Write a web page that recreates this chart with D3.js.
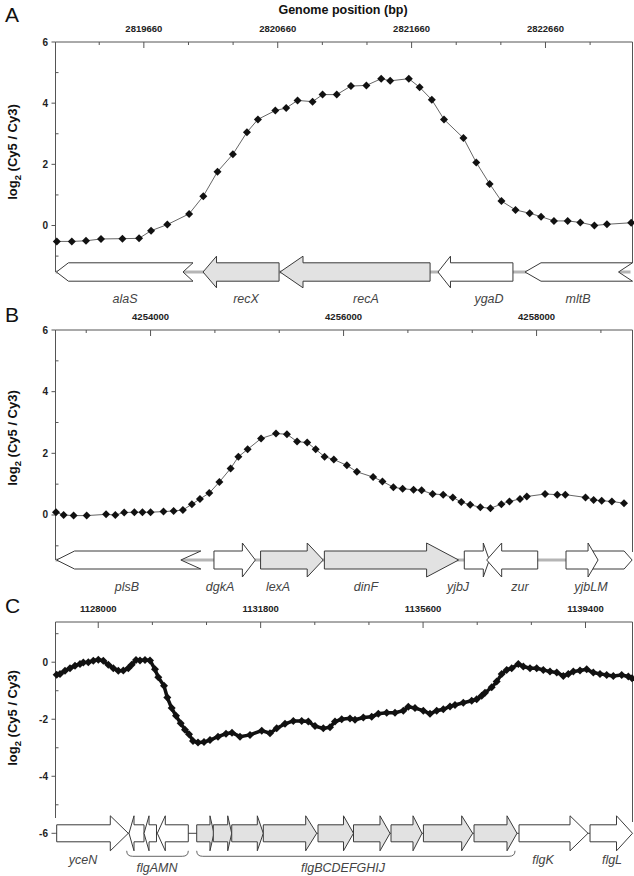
<!DOCTYPE html>
<html><head><meta charset="utf-8">
<script src="https://cdn.jsdelivr.net/npm/d3@7/dist/d3.min.js"></script>
<style>
body{margin:0;background:#fff}
svg{display:block}
text{font-family:"Liberation Sans",Arial,Helvetica,sans-serif}
</style>
</head><body>
<svg id="chart" width="634" height="876"></svg>
<script>
// ---------- DATA ----------
// Panel A (recA region)
const posA = [2819010,2819122,2819228,2819340,2819500,2819624,2819714,2819835,2819998,2820104,2820210,2820325,2820430,2820512,2820642,2820723,2820808,2820920,2820995,2821101,2821207,2821322,2821433,2821500,2821639,2821720,2821811,2821902,2822047,2822143,2822243,2822331,2822436,2822542,2822627,2822723,2822826,2822920,2823025,2823119,2823300];
const valA = [-0.52,-0.52,-0.50,-0.44,-0.43,-0.42,-0.17,0.03,0.38,0.96,1.76,2.33,3.05,3.47,3.76,3.84,4.09,4.05,4.28,4.28,4.56,4.58,4.80,4.73,4.80,4.52,4.11,3.47,2.86,2.06,1.36,0.80,0.51,0.40,0.29,0.15,0.15,0.10,0.00,0.04,0.09];
const xTicksA = [2819660,2820660,2821660,2822660];
const geneNameA = ['alaS','recX','recA','ygaD','mltB'];
const geneStartA = [2819007,2820102,2820677,2821857,2822507];
const geneEndA = [2820027,2820670,2821798,2822417,2823310];
const geneStrandA = [-1,-1,-1,-1,-1];
const geneShadedA = [false,true,true,false,false];
const labelTextA = ['alaS','recX','recA','ygaD','mltB'];
const labelAtA = [2819519,2820423,2821319,2822238,2822903];

// Panel B (lexA region)
const posB = [4253020,4253099,4253203,4253338,4253539,4253635,4253727,4253832,4253916,4254000,4254134,4254239,4254335,4254428,4254512,4254608,4254713,4254830,4254910,4255006,4255145,4255300,4255413,4255518,4255623,4255711,4255803,4255899,4256034,4256138,4256306,4256403,4256516,4256612,4256725,4256809,4256923,4257032,4257132,4257220,4257312,4257417,4257522,4257635,4257719,4257828,4257899,4258088,4258214,4258298,4258507,4258591,4258675,4258780,4258906];
const valB = [0.09,0.00,-0.02,-0.02,0.02,0.00,0.08,0.09,0.09,0.09,0.11,0.13,0.16,0.35,0.52,0.71,1.07,1.51,1.89,2.13,2.48,2.64,2.62,2.38,2.35,2.13,1.89,1.80,1.61,1.40,1.23,1.09,0.90,0.85,0.82,0.80,0.68,0.66,0.57,0.42,0.33,0.25,0.22,0.35,0.44,0.52,0.60,0.68,0.66,0.66,0.57,0.49,0.46,0.44,0.38];
const xTicksB = [4254000,4256000,4258000];
const geneNameB = ['plsB','dgkA','lexA','dinF','yjbJ','zur','yjbM','yjbL'];
const geneStartB = [4253026,4254657,4255140,4255801,4257251,4257483,4258585,4258305];
const geneEndB = [4254521,4255086,4255789,4257192,4257510,4258012,4258990,4258637];
const geneStrandB = [-1,1,1,1,1,-1,1,1];
const geneShadedB = [false,false,true,true,false,false,false,false];
const labelTextB = ['plsB','dgkA','lexA','dinF','yjbJ','zur','yjbLM'];
const labelAtB = [4253756,4254720,4255321,4256232,4257186,4257828,4258564];

// Panel C (flg region)
const posC = [1127028,1127105,1127222,1127339,1127456,1127573,1127650,1127767,1127884,1128001,1128118,1128235,1128352,1128469,1128586,1128703,1128783,1128883,1128977,1129094,1129211,1129328,1129405,1129539,1129616,1129719,1129819,1129929,1130030,1130124,1130217,1130334,1130474,1130615,1130802,1130989,1131130,1131317,1131551,1131825,1132019,1132175,1132370,1132564,1132760,1132915,1133072,1133266,1133423,1133540,1133696,1133891,1134008,1134202,1134398,1134553,1134749,1134943,1135137,1135254,1135411,1135605,1135762,1135919,1136073,1136230,1136347,1136541,1136738,1136855,1136972,1137049,1137206,1137323,1137440,1137557,1137674,1137829,1137945,1138102,1138259,1138413,1138570,1138727,1138881,1138998,1139115,1139272,1139428,1139583,1139740,1139896,1140051,1140247,1140402,1140489];
const valC = [-0.44,-0.41,-0.30,-0.21,-0.12,-0.06,-0.01,0.00,0.05,0.09,0.05,-0.09,-0.21,-0.30,-0.29,-0.21,-0.09,0.08,0.06,0.08,0.06,-0.25,-0.53,-0.83,-1.24,-1.61,-1.88,-2.14,-2.37,-2.53,-2.76,-2.82,-2.80,-2.73,-2.61,-2.51,-2.47,-2.61,-2.55,-2.40,-2.49,-2.32,-2.16,-2.06,-2.06,-2.08,-2.24,-2.32,-2.28,-2.08,-2.00,-1.97,-2.02,-1.94,-1.91,-1.81,-1.77,-1.77,-1.70,-1.56,-1.61,-1.70,-1.81,-1.70,-1.65,-1.55,-1.50,-1.42,-1.35,-1.30,-1.18,-1.07,-0.88,-0.68,-0.41,-0.27,-0.21,-0.06,-0.15,-0.21,-0.21,-0.27,-0.33,-0.36,-0.48,-0.41,-0.33,-0.29,-0.25,-0.36,-0.41,-0.45,-0.48,-0.45,-0.50,-0.56];
const xTicksC = [1128000,1131800,1135600,1139400];
const geneNameC = ['yceN','flgN','flgM','flgA','flgB','flgC','flgD','flgE','flgF','flgG','flgH','flgI','flgJ','flgK','flgL'];
const geneStartC = [1127028,1128720,1129071,1129382,1130304,1130692,1131123,1131862,1133142,1133972,1134850,1135608,1136792,1137845,1139506];
const geneEndC = [1128703,1129071,1129363,1130107,1130708,1131123,1131862,1133111,1133972,1134826,1135575,1136761,1137798,1139459,1140500];
const geneStrandC = [1,-1,-1,-1,1,1,1,1,1,1,1,1,1,1,1];
const geneShadedC = [false,false,false,false,true,true,true,true,true,true,true,true,true,false,false];
const labelTextC = ['yceN','flgK','flgL'];
const labelAtC = [1127643,1138406,1140020];
const groupTextC = ['flgAMN','flgBCDEFGHIJ'];
const groupStartC = [1128666,1130304];
const groupEndC = [1130107,1137751];
const groupLabelAtC = [1129375,1133727];

const yMajorAB = [6,4,2,0];
const yMinorAB = [5,3,1,-1];
const yMajorC = [0,-2,-4,-6];
const yMinorC = [1,-1,-3,-5];

// ---------- STYLE / LAYOUT ----------
const L = 55.5, R = 632.5;
const geneStyle = {
  alaS:{shape:'notched',head:12,notch:10}, recX:{head:13.5}, recA:{head:23}, ygaD:{head:12.5}, mltB:{shape:'notched',head:16,notch:14},
  plsB:{shape:'notched',head:18,notch:20}, dgkA:{head:13}, lexA:{head:16}, dinF:{head:32}, yjbJ:{head:6}, zur:{head:15}, yjbM:{shape:'pointed',head:8}, yjbL:{head:10},
  yceN:{head:18}, flgN:{head:5}, flgM:{head:5}, flgA:{head:8}, flgB:{head:4}, flgC:{head:4}, flgD:{head:6}, flgE:{head:11}, flgF:{head:10}, flgG:{head:10}, flgH:{head:9}, flgI:{head:11}, flgJ:{head:10}, flgK:{head:18}, flgL:{head:16}
};

const svg = d3.select('#chart');

function drawPanel(cfg) {
  const g = svg.append('g');
  const x = d3.scaleLinear().domain(cfg.xDomain).range([L, R]);
  const y = d3.scaleLinear().domain(cfg.yDomain).range([cfg.geneY, cfg.top]);
  const axisCol = '#555';

  g.append('line').attr('x1', L).attr('x2', R - 2).attr('y1', cfg.geneY).attr('y2', cfg.geneY)
    .attr('stroke', cfg.backboneColor).attr('stroke-width', cfg.backboneWidth);

  g.append('line').attr('x1', L).attr('x2', R).attr('y1', cfg.top).attr('y2', cfg.top).attr('stroke', axisCol);
  g.append('line').attr('x1', L).attr('x2', L).attr('y1', cfg.top).attr('y2', cfg.axisBottom).attr('stroke', axisCol);
  g.append('line').attr('x1', R).attr('x2', R).attr('y1', cfg.top).attr('y2', cfg.rightBottom).attr('stroke', axisCol);

  const majors = cfg.xTicks;
  const step = (majors[1] - majors[0]) / 3;
  const minors = [];
  for (let v = majors[0] - step; v >= cfg.xDomain[0]; v -= step) minors.push(v);
  for (let i = 0; i < majors.length; i++) {
    for (let k = 1; k <= 2; k++) {
      const v = majors[i] + k * step;
      if (v <= cfg.xDomain[1]) minors.push(v);
    }
  }
  g.selectAll(null).data(minors).enter().append('line')
    .attr('x1', d => x(d)).attr('x2', d => x(d)).attr('y1', cfg.top).attr('y2', cfg.top + 3).attr('stroke', axisCol);
  g.selectAll(null).data(majors).enter().append('line')
    .attr('x1', d => x(d)).attr('x2', d => x(d)).attr('y1', cfg.top).attr('y2', cfg.top + 6).attr('stroke', axisCol);
  g.selectAll(null).data(majors).enter().append('text')
    .attr('x', d => x(d)).attr('y', cfg.top - 10.5).attr('text-anchor', 'middle')
    .attr('font-size', 9.5).attr('font-weight', 'bold').attr('fill', '#222').text(d => d);

  g.selectAll(null).data(cfg.yMajor).enter().append('line')
    .attr('x1', L - 4).attr('x2', L).attr('y1', d => y(d)).attr('y2', d => y(d)).attr('stroke', axisCol);
  g.selectAll(null).data(cfg.yMinor).enter().append('line')
    .attr('x1', L).attr('x2', L + 3).attr('y1', d => y(d)).attr('y2', d => y(d)).attr('stroke', axisCol);
  g.selectAll(null).data(cfg.yMajor).enter().append('text')
    .attr('x', 48).attr('y', d => y(d)).attr('dy', '0.35em').attr('text-anchor', 'end')
    .attr('font-size', 10).attr('font-weight', 'bold').attr('fill', '#222').text(d => d);

  const yt = g.append('text').attr('transform', `translate(17,${cfg.yTitleY}) rotate(-90)`)
    .attr('text-anchor', 'middle').attr('font-size', 13).attr('font-weight', 'bold').attr('fill', '#111');
  yt.append('tspan').text('log');
  yt.append('tspan').attr('dy', 3.5).attr('font-size', 9.5).text('2');
  yt.append('tspan').attr('dy', -3.5).text(' (Cy5 / Cy3)');

  g.append('text').attr('x', 5).attr('y', cfg.letterY).attr('font-size', 21).attr('fill', '#111').text(cfg.letter);

  const pts = cfg.pos.map((p, i) => [p, cfg.val[i]]);
  g.append('path').datum(pts)
    .attr('d', d3.line().x(d => x(d[0])).y(d => y(d[1])))
    .attr('fill', 'none').attr('stroke', cfg.lineColor).attr('stroke-width', cfg.lineWidth);
  const r = cfg.r;
  g.selectAll(null).data(pts).enter().append('path')
    .attr('transform', d => `translate(${x(d[0])},${y(d[1])})`)
    .attr('d', `M0,${-r}L${r},0L0,${r}L${-r},0Z`).attr('fill', '#111');

  const c = cfg.geneY, b = cfg.bodyHalf, H = cfg.headHalf;
  cfg.genes.names.forEach((name, i) => {
    const x0 = x(cfg.genes.start[i]), x1 = x(cfg.genes.end[i]);
    const st = geneStyle[name] || {head: 10};
    const h = st.head;
    let p;
    if (st.shape === 'notched') {
      p = [[x0, c], [x0 + h, c - b], [x1, c - b], [x1 - st.notch, c], [x1, c + b], [x0 + h, c + b]];
    } else if (st.shape === 'pointed') {
      p = [[x0, c], [x0 + h, c - b], [x1, c - b], [x1, c + b], [x0 + h, c + b]];
    } else {
      p = [[x0, c], [x0 + h, c - H], [x0 + h, c - b], [x1, c - b], [x1, c + b], [x0 + h, c + b], [x0 + h, c + H]];
    }
    if (cfg.genes.strand[i] > 0) p = p.map(q => [x0 + x1 - q[0], q[1]]);
    g.append('path').attr('d', 'M' + p.map(q => q.join(',')).join('L') + 'Z')
      .attr('fill', cfg.genes.shaded[i] ? '#e2e2e2' : '#fff')
      .attr('stroke', '#3a3a3a').attr('stroke-width', 1).attr('stroke-linejoin', 'miter');
  });

  g.selectAll(null).data(cfg.labels.text).enter().append('text')
    .attr('x', (d, i) => x(cfg.labels.at[i])).attr('y', c + 30.5).attr('text-anchor', 'middle')
    .attr('font-size', 12.5).attr('font-style', 'italic').attr('fill', '#444').text(d => d);

  if (cfg.groups) {
    cfg.groups.text.forEach((t, i) => {
      const a = x(cfg.groups.start[i]), e = x(cfg.groups.end[i]);
      const yt0 = c + 17.5, yb = c + 23;
      g.append('path')
        .attr('d', `M${a},${yt0}Q${a},${yb} ${a + 6},${yb}L${e - 6},${yb}Q${e},${yb} ${e},${yt0}`)
        .attr('fill', 'none').attr('stroke', '#666').attr('stroke-width', 1);
      g.append('text').attr('x', x(cfg.groups.at[i])).attr('y', c + 38.5).attr('text-anchor', 'middle')
        .attr('font-size', 12.5).attr('font-style', 'italic').attr('fill', '#444').text(t);
    });
  }
}

svg.append('text').attr('x', 343).attr('y', 14).attr('text-anchor', 'middle')
  .attr('font-size', 12.5).attr('font-weight', 'bold').attr('fill', '#111').text('Genome position (bp)');

drawPanel({
  letter: 'A', letterY: 22, top: 42, geneY: 272, axisBottom: 272, rightBottom: 263,
  xDomain: [2819000, 2823310], yDomain: [-1.52, 6], xTicks: xTicksA,
  yMajor: yMajorAB, yMinor: yMinorAB, yTitleY: 152,
  pos: posA, val: valA, r: 4, lineColor: '#666', lineWidth: 1,
  bodyHalf: 9.2, headHalf: 15.8, backboneColor: '#b5b5b5', backboneWidth: 3,
  genes: {names: geneNameA, start: geneStartA, end: geneEndA, strand: geneStrandA, shaded: geneShadedA},
  labels: {text: labelTextA, at: labelAtA}
});

drawPanel({
  letter: 'B', letterY: 322, top: 330, geneY: 560, axisBottom: 560, rightBottom: 552,
  xDomain: [4253015, 4258994], yDomain: [-1.46, 6], xTicks: xTicksB,
  yMajor: yMajorAB, yMinor: yMinorAB, yTitleY: 438,
  pos: posB, val: valB, r: 4, lineColor: '#666', lineWidth: 1,
  bodyHalf: 9, headHalf: 17, backboneColor: '#b5b5b5', backboneWidth: 3,
  genes: {names: geneNameB, start: geneStartB, end: geneEndB, strand: geneStrandB, shaded: geneShadedB},
  labels: {text: labelTextB, at: labelAtB}
});

drawPanel({
  letter: 'C', letterY: 613, top: 622, geneY: 833.3, axisBottom: 818, rightBottom: 822,
  xDomain: [1127000, 1140500], yDomain: [-6, 1.41], xTicks: xTicksC,
  yMajor: yMajorC, yMinor: yMinorC, yTitleY: 718,
  pos: posC, val: valC, r: 4, lineColor: '#111', lineWidth: 3.5,
  bodyHalf: 8.5, headHalf: 17.5, backboneColor: '#444', backboneWidth: 1,
  genes: {names: geneNameC, start: geneStartC, end: geneEndC, strand: geneStrandC, shaded: geneShadedC},
  labels: {text: labelTextC, at: labelAtC},
  groups: {text: groupTextC, start: groupStartC, end: groupEndC, at: groupLabelAtC}
});
</script>
</body></html>
